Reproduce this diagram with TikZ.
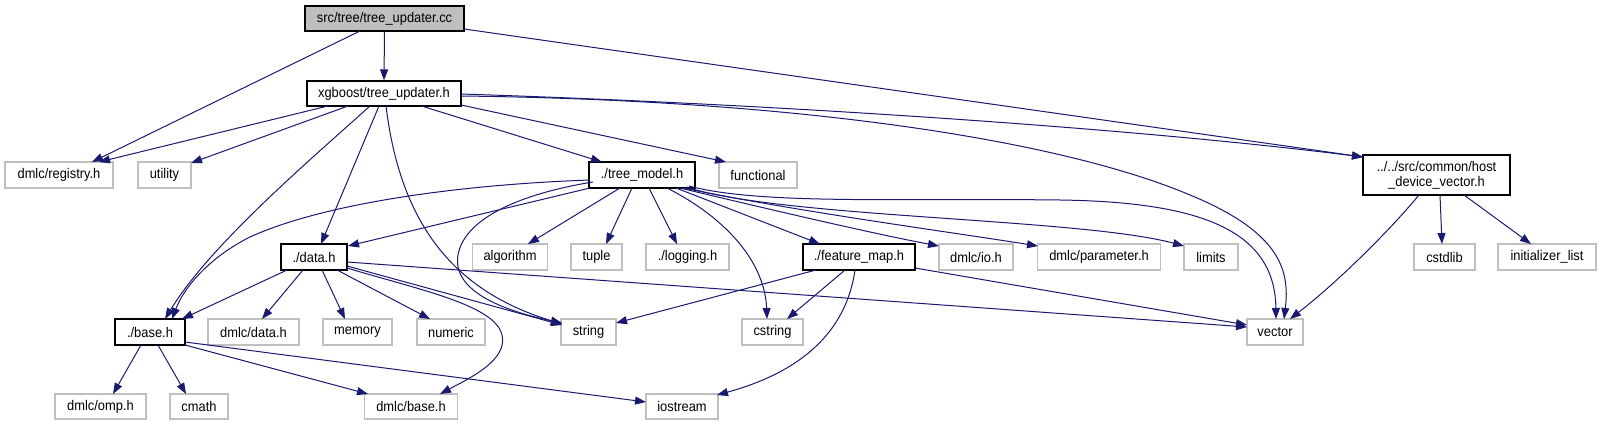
\documentclass[tikz,border=0pt]{standalone}
\usepackage{fontspec}
\setmainfont{Liberation Sans}[FakeStretch=0.92]
\usetikzlibrary{arrows.meta,calc}
\definecolor{edgeblue}{HTML}{191970}
\definecolor{extgray}{HTML}{BFBFBF}
\definecolor{rootgray}{HTML}{BFBFBF}
\tikzset{
  box/.style={line width=1.2pt, inner sep=0pt, minimum height=26pt, anchor=center, font=\fontsize{14}{15}\selectfont},
  intbox/.style={box, draw=black},
  extbox/.style={box, draw=extgray},
  edge/.style={draw=edgeblue, line width=1pt, -{Triangle[length=11pt,width=8pt]}},
}
\begin{document}
\begin{tikzpicture}[x=1pt,y=-1pt]
\useasboundingbox (0,0) rectangle (1601,425);
% row 0
\node[intbox, fill=rootgray, minimum width=159pt, minimum height=25pt] (root) at (384.5,18.5) {src/tree/tree\_updater.cc};
% row 1
\node[intbox, minimum width=154pt, minimum height=25pt] (tu) at (384,93.5) {xgboost/tree\_updater.h};
% row 2
\node[extbox, minimum width=108pt] (reg) at (59,175) {dmlc/registry.h};
\node[extbox, minimum width=53pt] (util) at (164.5,175) {utility};
\node[intbox, minimum width=106pt] (tm) at (642,175) {./tree\_model.h};
\node[extbox, minimum width=78pt] (func) at (758,175) {functional};
\node[intbox, minimum width=147pt, minimum height=40pt, align=center] (hdv) at (1436.5,175) {../../src/common/host\\\_device\_vector.h};
% row 3
\node[intbox, minimum width=66pt] (data) at (314,257) {./data.h};
\node[extbox, minimum width=75pt] (algo) at (510,257) {algorithm};
\node[extbox, minimum width=51pt] (tuple) at (596.5,257) {tuple};
\node[extbox, minimum width=83pt] (log) at (687.5,257) {./logging.h};
\node[intbox, minimum width=112pt] (fmap) at (859,257) {./feature\_map.h};
\node[extbox, minimum width=74pt] (io) at (976,257) {dmlc/io.h};
\node[extbox, minimum width=123pt] (param) at (1099,257) {dmlc/parameter.h};
\node[extbox, minimum width=54pt] (limits) at (1211,257) {limits};
\node[extbox, minimum width=61pt] (cstdlib) at (1444.5,257) {cstdlib};
\node[extbox, minimum width=98pt] (init) at (1547,257) {initializer\_list};
% row 4
\node[intbox, minimum width=70pt] (base) at (150,332) {./base.h};
\node[extbox, minimum width=91pt] (ddata) at (253.5,332) {dmlc/data.h};
\node[extbox, minimum width=69pt] (memory) at (357.5,332) {memory};
\node[extbox, minimum width=68pt] (numeric) at (451,332) {numeric};
\node[extbox, minimum width=55pt] (string) at (588.5,332) {string};
\node[extbox, minimum width=61pt] (cstring) at (772.5,332) {cstring};
\node[extbox, minimum width=56pt] (vector) at (1275,332) {vector};
% row 5
\node[extbox, minimum width=91pt, minimum height=25pt] (omp) at (100.5,406.5) {dmlc/omp.h};
\node[extbox, minimum width=58pt, minimum height=25pt] (cmath) at (199,406.5) {cmath};
\node[extbox, minimum width=93pt, minimum height=25pt] (dbase) at (411,406.5) {dmlc/base.h};
\node[extbox, minimum width=72pt, minimum height=25pt] (iostream) at (682,406.5) {iostream};

% edges from root
\path[edge] (root.south) -- (tu.north);
\path[edge] ($(root)+(-24.5,12.5)$) -- ($(reg)+(33,-13)$);
\path[edge] ($(root)+(79.5,10.5)$) -- ($(hdv)+(-73.5,-18)$);
% edges from tree_updater.h
\path[edge] ($(tu)+(-56,12.5)$) -- ($(reg)+(40,-13)$);
\path[edge] ($(tu)+(-36,12.5)$) -- ($(util)+(26.5,-12)$);
\path[edge] ($(tu)+(-14,12.5)$) .. controls (310,160) and (210,245) .. ($(base)+(15,-13)$);
\path[edge] ($(tu)+(-5,12.5)$) -- ($(data)+(7,-13)$);
\path[edge] ($(tu)+(2,12.5)$) .. controls (400,220) and (450,290) .. ($(string)+(-26.5,-8)$);
\path[edge] ($(tu)+(37.5,12.5)$) -- ($(tm)+(-40,-13)$);
\path[edge] ($(tu)+(77,11.5)$) -- ($(func)+(-32,-13)$);
\path[edge] ($(tu)+(77,0.5)$) .. controls (800,105) and (1150,130) .. ($(hdv)+(-73.5,-18)$);
\path[edge] ($(tu)+(77,2.5)$) .. controls (800,100) and (1060,140) .. (1190,195) .. controls (1280,232) and (1290,270) .. ($(vector)+(9,-13)$);
% edges from tree_model.h
\path[edge] ($(tm)+(-52,5)$) .. controls (450,185) and (320,205) .. (250,237) .. controls (212,256) and (185,285) .. ($(base)+(22,-13)$);
\path[edge] ($(tm)+(-52,13)$) -- ($(data)+(34,-11)$);
\path[edge] ($(tm)+(-49,7)$) .. controls (530,192) and (465,215) .. (458,255) .. controls (452,290) and (500,310) .. ($(string)+(-26.5,-9)$);
\path[edge] ($(tm)+(-22,13)$) -- ($(algo)+(18,-13)$);
\path[edge] ($(tm)+(-10,13)$) -- ($(tuple)+(9.5,-13)$);
\path[edge] ($(tm)+(7,13)$) -- ($(log)+(-10.5,-13)$);
\path[edge] ($(tm)+(25,13)$) .. controls (730,220) and (765,265) .. ($(cstring)+(-5.5,-13)$);
\path[edge] ($(tm)+(34,13)$) -- ($(fmap)+(-39,-13)$);
\path[edge] ($(tm)+(38,13)$) .. controls (780,212) and (880,235) .. ($(io)+(-37,-11)$);
\path[edge] ($(tm)+(41,13)$) .. controls (800,212) and (950,232) .. ($(param)+(-61,-11)$);
\path[edge] ($(tm)+(44,12)$) .. controls (780,218) and (1080,218) .. ($(limits)+(-27,-11)$);
\path[edge] ($(tm)+(47,11)$) .. controls (760,205) and (900,198) .. (1060,200) .. controls (1200,202) and (1275,230) .. ($(vector)+(1,-13)$);
% edges from data.h
\path[edge] ($(data)+(-27,13)$) -- ($(base)+(32,-13)$);
\path[edge] ($(data)+(-11,13)$) -- ($(ddata)+(8.5,-13)$);
\path[edge] ($(data)+(8,13)$) -- ($(memory)+(-12.5,-13)$);
\path[edge] ($(data)+(23,13)$) -- ($(numeric)+(-21,-13)$);
\path[edge] ($(data)+(33,5)$) -- ($(vector)+(-28,-5)$);
\path[edge] ($(data)+(33,9)$) -- ($(string)+(-26.5,-7)$);
\path[edge] ($(data)+(33,11)$) .. controls (420,290) and (495,305) .. (502,335) .. controls (508,360) and (470,378) .. ($(dbase)+(29,-12.5)$);
% edges from base.h
\path[edge] ($(base)+(-9,13)$) -- ($(omp)+(12.5,-12.5)$);
\path[edge] ($(base)+(8,13)$) -- ($(cmath)+(-13,-12.5)$);
\path[edge] ($(base)+(35,13)$) -- ($(dbase)+(-43,-12.5)$);
\path[edge] ($(base)+(35,10)$) -- ($(iostream)+(-36,-4.5)$);
% edges from feature_map.h
\path[edge] ($(fmap)+(-43,13)$) -- ($(string)+(27.5,-9)$);
\path[edge] ($(fmap)+(-14,13)$) -- ($(cstring)+(14.5,-13)$);
\path[edge] ($(fmap)+(-4,13)$) .. controls (845,340) and (790,375) .. ($(iostream)+(35,-11.5)$);
\path[edge] ($(fmap)+(56,11)$) -- ($(vector)+(-28,-7)$);
% edges from host_device_vector.h
\path[edge] ($(hdv)+(-17.5,20)$) .. controls (1390,230) and (1340,280) .. ($(vector)+(15,-13)$);
\path[edge] ($(hdv)+(3.5,20)$) -- ($(cstdlib)+(-2.5,-13)$);
\path[edge] ($(hdv)+(27.5,20)$) -- ($(init)+(-16,-13)$);
\end{tikzpicture}
\end{document}
